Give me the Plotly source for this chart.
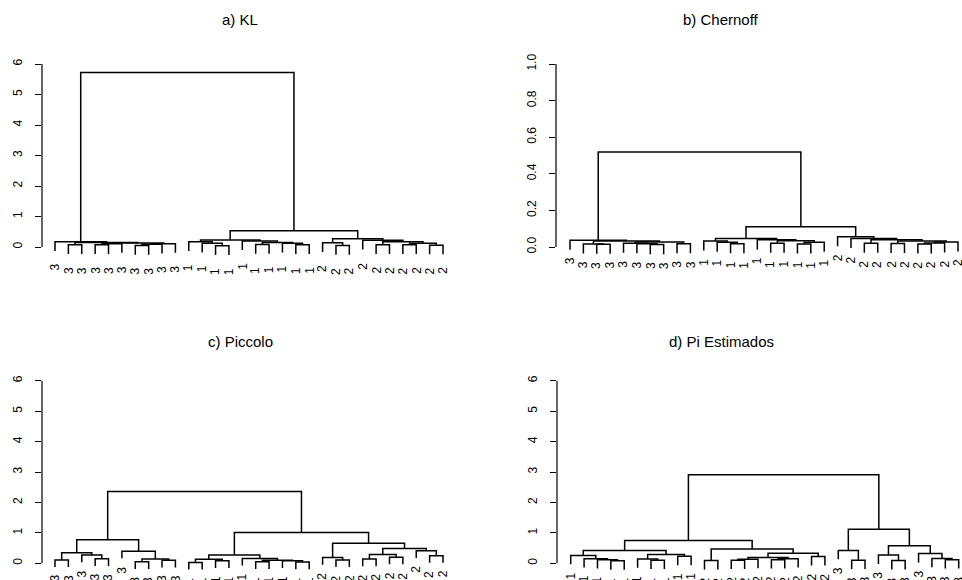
import plotly.graph_objects as go

W, H = 962, 580

# ---------------- data: four hierarchical clusterings of 30 items ----------------
# merge rows follow the hclust convention: negative = leaf (position in display
# order, 1-based), positive = an earlier merge row (1-based).

# a) KL
kl_labels = ["3", "3", "3", "3", "3", "3", "3", "3", "3", "3",
             "1", "1", "1", "1", "1", "1", "1", "1", "1", "1",
             "2", "2", "2", "2", "2", "2", "2", "2", "2", "2"]
kl_merge = [(-2, -3), (-4, -5), (2, -6), (-7, -8), (4, -9), (5, -10), (3, 6), (1, 7), (-1, 8),
            (-13, -14), (-12, 10), (-11, 11), (-16, -17), (-19, -20), (-18, 14), (13, 15),
            (-15, 16), (12, 17),
            (-22, -23), (-21, 19), (-25, -26), (-27, -28), (-29, -30), (22, 23), (21, 24),
            (-24, 25), (20, 26),
            (18, 27), (9, 28)]
kl_height = [0.07, 0.07, 0.11, 0.05, 0.09, 0.11, 0.13, 0.15, 0.17,
             0.04, 0.12, 0.17, 0.08, 0.07, 0.12, 0.15, 0.20, 0.23,
             0.05, 0.14, 0.07, 0.07, 0.06, 0.12, 0.17, 0.22, 0.27,
             0.53, 5.72]

# b) Chernoff
ch_labels = ["3", "3", "3", "3", "3", "3", "3", "3", "3", "3",
             "1", "1", "1", "1", "1", "1", "1", "1", "1", "1",
             "2", "2", "2", "2", "2", "2", "2", "2", "2", "2"]
ch_merge = [(-3, -4), (-2, 1), (-7, -8), (-6, 3), (-5, 4), (-9, -10), (5, 6), (2, 7), (-1, 8),
            (-13, -14), (-12, 10), (-11, 11), (-16, -17), (-18, -19), (14, -20), (13, 15),
            (-15, 16), (12, 17),
            (-23, -24), (-25, -26), (-27, -28), (21, -29), (22, -30), (20, 23), (19, 24),
            (-22, 25), (-21, 26),
            (18, 27), (9, 28)]
ch_height = [0.015, 0.017, 0.013, 0.018, 0.021, 0.018, 0.028, 0.033, 0.037,
             0.018, 0.026, 0.033, 0.020, 0.017, 0.026, 0.034, 0.039, 0.047,
             0.020, 0.019, 0.017, 0.022, 0.028, 0.033, 0.040, 0.046, 0.056,
             0.111, 0.519]

# c) Piccolo
pc_labels = ["3", "3", "3", "3", "3", "3", "3", "3", "3", "3",
             "1", "1", "1", "1", "1", "1", "1", "1", "1", "1",
             "2", "2", "2", "2", "2", "2", "2", "2", "2", "2"]
pc_merge = [(-1, -2), (-4, -5), (-3, 2), (1, 3), (-7, -8), (-9, -10), (5, 6), (-6, 7), (4, 8),
            (-11, -12), (-13, -14), (10, 11), (-16, -17), (-19, -20), (-18, 14), (13, 15),
            (-15, 16), (12, 17),
            (-22, -23), (-21, 19), (-24, -25), (-26, -27), (21, 22), (-29, -30), (-28, 24),
            (23, 25), (20, 26),
            (18, 27), (9, 28)]
pc_height = [0.11, 0.15, 0.27, 0.35, 0.05, 0.10, 0.14, 0.40, 0.77,
             0.03, 0.08, 0.13, 0.05, 0.04, 0.08, 0.10, 0.16, 0.27,
             0.11, 0.19, 0.14, 0.20, 0.29, 0.25, 0.41, 0.49, 0.66,
             1.01, 2.36]

# d) Pi Estimados
pe_labels = ["1", "1", "1", "1", "1", "1", "1", "1", "1", "1",
             "2", "2", "2", "2", "2", "2", "2", "2", "2", "2",
             "3", "3", "3", "3", "3", "3", "3", "3", "3", "3"]
pe_merge = [(-4, -5), (-3, 1), (-2, 2), (-1, 3), (-7, -8), (-6, 5), (-9, -10), (6, 7), (4, 8),
            (-11, -12), (-13, -14), (11, -15), (-16, -17), (13, -18), (12, 14), (-19, -20),
            (15, 16), (10, 17), (9, 18),
            (-22, -23), (-21, 20), (-25, -26), (-24, 22), (-29, -30), (-28, 24), (-27, 25),
            (23, 26), (21, 27),
            (19, 28)]
pe_height = [0.08, 0.12, 0.15, 0.26, 0.10, 0.14, 0.23, 0.29, 0.42,
             0.09, 0.10, 0.13, 0.12, 0.15, 0.19, 0.22, 0.33, 0.47, 0.75,
             0.10, 0.42, 0.09, 0.27, 0.12, 0.16, 0.32, 0.58, 1.12,
             2.91]

# y-axis ticks
ticks_0_6 = [0, 1, 2, 3, 4, 5, 6]
ticks_0_1 = [0.0, 0.2, 0.4, 0.6, 0.8, 1.0]
ticktext_0_6 = ["0", "1", "2", "3", "4", "5", "6"]
ticktext_0_1 = ["0.0", "0.2", "0.4", "0.6", "0.8", "1.0"]

titles = ["a) KL", "b) Chernoff", "c) Piccolo", "d) Pi Estimados"]

# ---------------- panel geometry (pixels) ----------------
panels = [
    dict(title=titles[0], labels=kl_labels, merge=kl_merge, height=kl_height,
         ticks=ticks_0_6, ticktext=ticktext_0_6, hang=0.30, gap=11,
         xdom=(42, 460), leaf_px=(55, 443), ydom=(50, 300), yval_px=((0, 247), (6, 64)),
         title_px=(240, 20)),
    dict(title=titles[1], labels=ch_labels, merge=ch_merge, height=ch_height,
         ticks=ticks_0_1, ticktext=ticktext_0_1, hang=0.052, gap=6,
         xdom=(556, 962), leaf_px=(570, 958), ydom=(50, 300), yval_px=((0, 247), (1, 64)),
         title_px=(721, 20)),
    dict(title=titles[2], labels=pc_labels, merge=pc_merge, height=pc_height,
         ticks=ticks_0_6, ticktext=ticktext_0_6, hang=0.235, gap=6,
         xdom=(42, 460), leaf_px=(55, 443), ydom=(370, 580), yval_px=((0, 563.3), (6, 380.7)),
         title_px=(240, 341)),
    dict(title=titles[3], labels=pe_labels, merge=pe_merge, height=pe_height,
         ticks=ticks_0_6, ticktext=ticktext_0_6, hang=0.29, gap=6,
         xdom=(557, 962), leaf_px=(570.7, 958.7), ydom=(370, 580), yval_px=((0, 563.3), (6, 380.7)),
         title_px=(721, 341)),
]

FONT = "Liberation Sans, Arial, Helvetica, sans-serif"


def tree_paths(merge, height, hang):
    """Build the bracket polyline of a dendrogram and the hanging leaf ends."""
    centers = []
    xs, ys = [], []
    leaf_end = {}

    def node(c):
        if c < 0:
            return float(-c), None
        return centers[c - 1], height[c - 1]

    for i, (a, b) in enumerate(merge):
        h = height[i]
        xa, ha = node(a)
        xb, hb = node(b)
        if ha is None:
            ha = h - hang
            leaf_end[int(xa)] = ha
        if hb is None:
            hb = h - hang
            leaf_end[int(xb)] = hb
        xs += [xa, xa, xb, xb, None]
        ys += [ha, h, h, hb, None]
        centers.append((xa + xb) / 2.0)
    return xs, ys, leaf_end


def lin(p, p_a, v_a, p_b, v_b):
    return v_a + (p - p_a) * (v_b - v_a) / (p_b - p_a)


fig = go.Figure()
annotations = []
shapes = []
layout_axes = {}

for i, P in enumerate(panels, start=1):
    sfx = "" if i == 1 else str(i)
    xname, yname = "x" + sfx, "y" + sfx
    n = len(P["labels"])

    xs, ys, leaf_end = tree_paths(P["merge"], P["height"], P["hang"])
    fig.add_trace(go.Scatter(x=xs, y=ys, mode="lines", xaxis=xname, yaxis=yname,
                             line=dict(color="black", width=1.5), hoverinfo="skip",
                             showlegend=False))

    # axis ranges from pixel anchors
    x0p, x1p = P["xdom"]
    l0, l1 = P["leaf_px"]
    xr = [lin(x0p, l0, 1, l1, n), lin(x1p, l0, 1, l1, n)]
    (va, pa), (vb, pb) = P["yval_px"]
    ytop, ybot = P["ydom"]
    yr = [lin(ybot, pa, va, pb, vb), lin(ytop, pa, va, pb, vb)]

    layout_axes["xaxis" + sfx] = dict(domain=[x0p / W, x1p / W], range=xr, visible=False,
                                      anchor=yname, fixedrange=True)
    layout_axes["yaxis" + sfx] = dict(domain=[1 - ybot / H, 1 - ytop / H], range=yr,
                                      anchor=xname, showgrid=False, zeroline=False,
                                      showline=False, ticks="outside", ticklen=6,
                                      tickwidth=1.2, tickcolor="black",
                                      tickvals=P["ticks"], ticktext=P["ticktext"],
                                      tickangle=-90, ticklabelstandoff=8,
                                      tickfont=dict(family=FONT, size=12, color="black"),
                                      fixedrange=True)

    # axis line spanning the tick range only
    shapes.append(dict(type="line", xref=xname + " domain", yref=yname,
                       x0=0, x1=0, y0=P["ticks"][0], y1=P["ticks"][-1],
                       line=dict(color="black", width=1.2)))

    # leaf labels hanging below each leaf
    for k in range(1, n + 1):
        annotations.append(dict(x=k, y=leaf_end[k], xref=xname, yref=yname,
                                text=P["labels"][k - 1], showarrow=False, textangle=-90,
                                xanchor="center", yanchor="top", yshift=-P["gap"],
                                font=dict(family=FONT, size=12, color="black")))

    tx, ty = P["title_px"]
    annotations.append(dict(x=tx / W, y=1 - ty / H, xref="paper", yref="paper",
                            text=P["title"], showarrow=False, xanchor="center",
                            yanchor="middle", font=dict(family=FONT, size=15, color="black")))

fig.update_layout(width=W, height=H, margin=dict(l=0, r=0, t=0, b=0),
                  paper_bgcolor="white", plot_bgcolor="white",
                  annotations=annotations, shapes=shapes, **layout_axes)

fig.write_html("out.html")
